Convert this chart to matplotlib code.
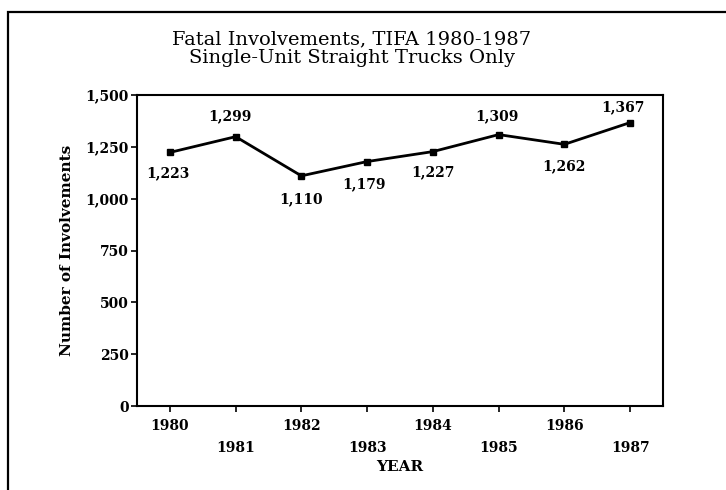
import numpy as np
import matplotlib
matplotlib.use('Agg')
import matplotlib.pyplot as plt
from matplotlib.patches import Rectangle

years = [1980, 1981, 1982, 1983, 1984, 1985, 1986, 1987]
involvements = [1223, 1299, 1110, 1179, 1227, 1309, 1262, 1367]
yticks = [0, 250, 500, 750, 1000, 1250, 1500]
# label offsets in pixels (dx, dy), relative to each point
label_offsets = [(-2, -21), (-6, 20), (0, -23), (-3, -23), (0, -21), (-2, 18), (0, -22), (-7, 15)]

plt.rcParams['font.family'] = 'DejaVu Serif'

W, H = 726, 490
fig = plt.figure(figsize=(W / 100, H / 100), dpi=100)
ax = fig.add_axes([137 / W, 1 - 406 / H, (663 - 137) / W, (406 - 95) / H])

# outer frame running off the right and bottom edges
fig.patches.append(Rectangle((8 / W, -0.1), 1.2, 1 - 12 / H + 0.1, transform=fig.transFigure,
                             fill=False, lw=1.6, ec='black'))

ax.plot(years, involvements, color='black', lw=2, marker='s', ms=4.5, mfc='black')
for x, y, (dx, dy) in zip(years, involvements, label_offsets):
    ax.annotate('{:,}'.format(y), (x, y), xytext=(dx, dy), textcoords='offset pixels',
                ha='center', va='center', fontsize=10, fontweight='bold')

ax.set_xlim(1979.5, 1987.5)
ax.set_ylim(0, 1500)
ax.set_yticks(yticks)
ax.set_yticklabels(['{:,}'.format(v) for v in yticks], fontsize=10, fontweight='bold')
ax.set_xticks(years)
ax.set_xticklabels([str(y) if i % 2 == 0 else '\n' + str(y) for i, y in enumerate(years)],
                   fontsize=10, fontweight='bold', linespacing=1.75)
ax.tick_params(direction='out', length=4, width=1.2, pad=2)
ax.tick_params(axis='x', pad=5)
for s in ax.spines.values():
    s.set_linewidth(1.5)

ax.set_ylabel('Number of Involvements', fontsize=11, fontweight='bold', labelpad=8)
ax.set_xlabel('YEAR', fontsize=11, fontweight='bold', labelpad=4)

fig.text(352 / W, 1 - 39 / H, 'Fatal Involvements, TIFA 1980-1987', ha='center', va='center', fontsize=14)
fig.text(352 / W, 1 - 58 / H, 'Single-Unit Straight Trucks Only', ha='center', va='center', fontsize=14)

fig.savefig('out.png', dpi=100)
